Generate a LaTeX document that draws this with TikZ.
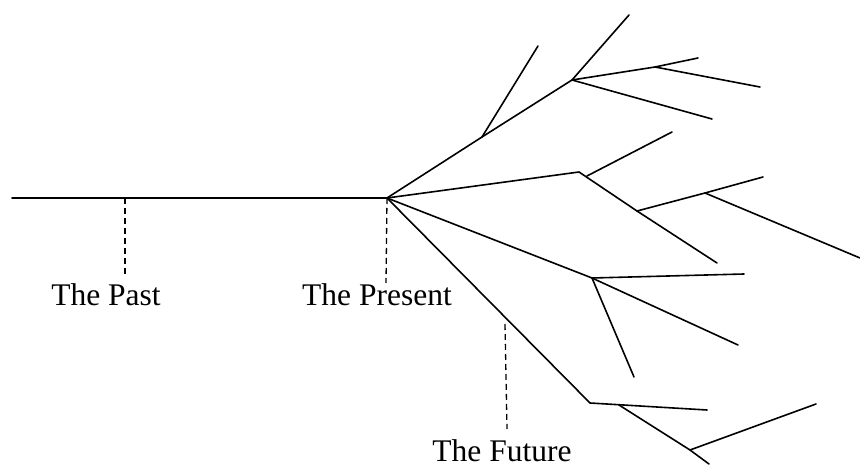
\documentclass[tikz,border=0pt]{standalone}
\usepackage{fontspec}
\setmainfont{Liberation Serif}
\begin{document}
\begin{tikzpicture}[x=1pt,y=-1pt,
  branch/.style={line width=1.6pt,line cap=round},
  guide/.style={line width=1.3pt,dash pattern=on 6pt off 4pt},
  lbl/.style={anchor=base,inner sep=0pt,font=\fontsize{31.5}{36}\selectfont}]
\useasboundingbox (0,0) rectangle (860,470);
% main points
\coordinate (L) at (12,198);
\coordinate (P) at (387,198);
\coordinate (pastTop) at (125,198);
\coordinate (pastBot) at (125,276);
\coordinate (presBot) at (386,283);
% upper branch
\coordinate (A) at (482,137);
\coordinate (A1) at (538,46);
\coordinate (B) at (572,80);
\coordinate (B1) at (629,15);
\coordinate (C) at (655,67);
\coordinate (C1) at (698,58);
\coordinate (C2) at (760,87);
\coordinate (B2) at (712,119);
% middle branch
\coordinate (D) at (579,172);
\coordinate (D0) at (587,176);
\coordinate (D1) at (672,132);
\coordinate (E) at (637,211);
\coordinate (E1) at (717,263);
\coordinate (F) at (705,193);
\coordinate (F1) at (763,177);
\coordinate (F2) at (860,258);
% lower-middle branch
\coordinate (G) at (592,278);
\coordinate (G1) at (744,274);
\coordinate (G2) at (738,345);
\coordinate (G3) at (634,377);
% lowest branch
\coordinate (H) at (590,403);
\coordinate (H1) at (707,410);
\coordinate (H0) at (619,405);
\coordinate (I) at (690,450);
\coordinate (I1) at (709,464);
\coordinate (I2) at (816,404);
% future guide
\coordinate (futTop) at (505,324);
\coordinate (futBot) at (507,429);

\draw[branch] (L) -- (P);
\draw[branch] (P) -- (A) -- (B);
\draw[branch] (A) -- (A1);
\draw[branch] (B) -- (B1);
\draw[branch] (B) -- (C) -- (C1);
\draw[branch] (C) -- (C2);
\draw[branch] (B) -- (B2);
\draw[branch] (P) -- (D) -- (E) -- (E1);
\draw[branch] (D0) -- (D1);
\draw[branch] (E) -- (F) -- (F1);
\draw[branch] (F) -- (F2);
\draw[branch] (P) -- (G) -- (G1);
\draw[branch] (G) -- (G2);
\draw[branch] (G) -- (G3);
\draw[branch] (P) -- (H) -- (H1);
\draw[branch] (H0) -- (I) -- (I1);
\draw[branch] (I) -- (I2);

\draw[guide] (pastTop) -- (pastBot);
\draw[guide] (P) -- (presBot);
\draw[guide] (futTop) -- (futBot);

\node[lbl] (past) at (106,306) {The Past};
\node[lbl] (present) at (377,306) {The Present};
\node[lbl] (future) at (502,461) {The Future};
\end{tikzpicture}
\end{document}
